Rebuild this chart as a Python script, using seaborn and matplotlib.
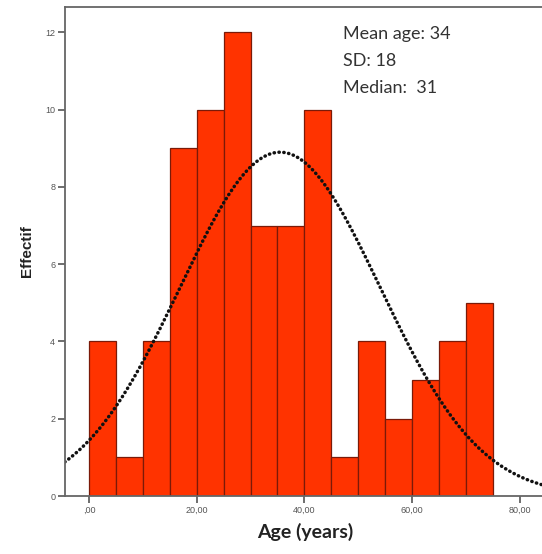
import numpy as np
import pandas as pd
import seaborn as sns
import matplotlib
matplotlib.use("Agg")
import matplotlib.pyplot as plt

# ---- data ----
bin_edges = [0, 5, 10, 15, 20, 25, 30, 35, 40, 45, 50, 55, 60, 65, 70, 75]
counts = [4, 1, 4, 9, 10, 12, 7, 7, 10, 1, 4, 2, 3, 4, 5]
x_ticks = [0, 20, 40, 60, 80]
x_tick_labels = [",00", "20,00", "40,00", "60,00", "80,00"]
y_ticks = [0, 2, 4, 6, 8, 10, 12]
# fitted normal curve parameters (as drawn)
curve_mean = 35.5
curve_sd = 18.6
stats_lines = ["Mean age: 34", "SD: 18", "Median:  31"]

sns.set_style("white")
plt.rcParams['font.family'] = ['Liberation Sans', 'DejaVu Sans']

fig = plt.figure(figsize=(5.42, 5.54), dpi=100)
ax = fig.add_axes([65/542, 1-496/554, (546-65)/542, (496-7)/554])

df = pd.DataFrame({"left": bin_edges[:-1], "n": counts})
sns.histplot(data=df, x="left", weights="n", bins=bin_edges, ax=ax,
             color="#ff3300", alpha=1, edgecolor="#7a1a08", linewidth=0.9)

n_total = sum(counts)
bw = bin_edges[1] - bin_edges[0]
xs = np.linspace(-4.5, 85, 400)
ys = n_total * bw / (curve_sd * np.sqrt(2*np.pi)) * np.exp(-0.5*((xs-curve_mean)/curve_sd)**2)
sns.lineplot(x=xs, y=ys, ax=ax, color="#111111", linewidth=2.5,
             linestyle=(0, (0.1, 1.3)))
ax.lines[-1].set_dash_capstyle("round")

ax.set_xlim(-4.47, 84.9)
ax.set_ylim(0, 12.66)
ax.set_xticks(x_ticks)
ax.set_xticklabels(x_tick_labels)
ax.set_yticks(y_ticks)
ax.tick_params(axis="both", direction="out", length=5, width=1.2,
               color="#555555", labelsize=6.5, labelcolor="#555555", pad=2,
               bottom=True, left=True)
for s in ["top", "left", "bottom"]:
    ax.spines[s].set_color("#666666")
    ax.spines[s].set_linewidth(1.3)
ax.spines["right"].set_visible(False)

ax.set_xlabel("Age (years)", fontsize=14, fontweight="bold",
              family=["Lato", "DejaVu Sans"], color="#222222", labelpad=6)
ax.set_ylabel("Effectif", fontsize=11, fontweight="bold", color="#222222", labelpad=8)

for i, line in enumerate(stats_lines):
    ax.text(343/542, 1-(39+i*27)/554, line, transform=fig.transFigure,
            fontsize=13, family=["Lato", "DejaVu Sans"], color="#333333",
            ha="left", va="baseline")

fig.savefig("out.png", dpi=100)
